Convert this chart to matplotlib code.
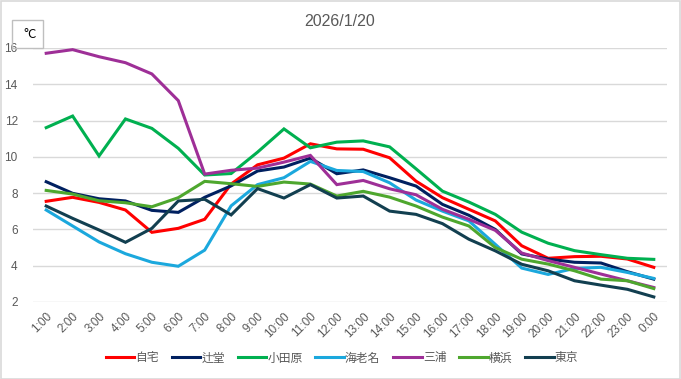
import matplotlib
matplotlib.use("Agg")
import matplotlib.pyplot as plt
from matplotlib.patches import Rectangle
import matplotlib.transforms as mtransforms

plt.rcParams['font.family'] = ['Noto Sans CJK JP', 'DejaVu Sans']

title = "2026/1/20"
hours = ["1:00", "2:00", "3:00", "4:00", "5:00", "6:00", "7:00", "8:00", "9:00", "10:00",
         "11:00", "12:00", "13:00", "14:00", "15:00", "16:00", "17:00", "18:00", "19:00",
         "20:00", "21:00", "22:00", "23:00", "0:00"]

jitaku = [7.55, 7.77, 7.49, 7.07, 5.84, 6.06, 6.56, 8.5, 9.56, 9.93, 10.72, 10.44, 10.42, 9.95,
          8.66, 7.75, 7.11, 6.47, 5.1, 4.41, 4.5, 4.52, 4.37, 3.91]
tsujido = [8.63, 7.99, 7.69, 7.57, 7.05, 6.94, 7.77, 8.4, 9.22, 9.44, 9.93, 9.07, 9.28, 8.85,
           8.39, 7.38, 6.78, 6.0, 4.65, 4.37, 4.19, 4.15, 3.67, 3.26]
odawara = [11.61, 12.25, 10.05, 12.09, 11.57, 10.47, 9.0, 9.08, 10.26, 11.54, 10.5, 10.81, 10.88,
           10.55, 9.34, 8.11, 7.51, 6.83, 5.85, 5.24, 4.83, 4.61, 4.41, 4.35]
ebina = [7.07, 6.19, 5.31, 4.66, 4.19, 3.97, 4.86, 7.3, 8.47, 8.85, 9.75, 9.25, 9.19, 8.57,
         7.62, 7.01, 6.47, 5.18, 3.87, 3.52, 3.85, 3.91, 3.63, 3.3]
miura = [15.71, 15.91, 15.52, 15.19, 14.57, 13.1, 9.05, 9.26, 9.38, 9.71, 10.08, 8.47, 8.7, 8.24,
         7.91, 7.11, 6.56, 5.95, 4.7, 4.28, 3.91, 3.54, 3.17, 2.8]
yokohama = [8.15, 7.95, 7.58, 7.47, 7.25, 7.75, 8.65, 8.52, 8.37, 8.61, 8.5, 7.84, 8.1, 7.78,
            7.29, 6.68, 6.19, 5.0, 4.36, 4.09, 3.72, 3.26, 3.17, 2.74]
tokyo = [7.29, 6.61, 5.97, 5.29, 6.06, 7.57, 7.66, 6.8, 8.25, 7.73, 8.47, 7.73, 7.84, 7.01,
         6.83, 6.32, 5.46, 4.82, 4.08, 3.72, 3.17, 2.93, 2.7, 2.28]

series_names = ["自宅", "辻堂", "小田原", "海老名", "三浦", "横浜", "東京"]
series_values = [jitaku, tsujido, odawara, ebina, miura, yokohama, tokyo]
colors = ["#FF0000", "#002060", "#00B050", "#1BA8DD", "#9E2F97", "#4EA72E", "#123F50"]
yticks = [2, 4, 6, 8, 10, 12, 14, 16]

W, H = 681, 379
fig = plt.figure(figsize=(W / 100, H / 100), dpi=100)
fig.patch.set_facecolor("white")

# outer border
fig.add_artist(Rectangle((0.5 / W, 0.5 / H), 1 - 1.5 / W, 1 - 1.5 / H, transform=fig.transFigure,
                         fill=False, edgecolor="#D9D9D9", linewidth=1.2))

ax = fig.add_axes([33 / W, 1 - 302 / H, (667 - 33) / W, (302 - 48) / H])
x = list(range(len(hours)))
for name, vals, c in zip(series_names, series_values, colors):
    ax.plot(x, vals, color=c, linewidth=2.2, label=name, solid_joinstyle="miter")

ax.set_xlim(-0.5, len(hours) - 0.5)
ax.set_ylim(2, 16)
ax.set_yticks(yticks)
ax.set_yticklabels([str(v) for v in yticks], color="#595959", fontsize=8.5, family="Liberation Sans")
ax.set_xticks(x)
ax.set_xticklabels(hours, rotation=45, ha="right", rotation_mode="anchor",
                   color="#595959", fontsize=8.5, family="Liberation Sans")
offset = mtransforms.ScaledTranslation(5 / 100, -2 / 100, fig.dpi_scale_trans)
for lab in ax.get_xticklabels():
    lab.set_transform(lab.get_transform() + offset)
ax.tick_params(axis="both", length=0)
ax.tick_params(axis="y", pad=11)
ax.tick_params(axis="x", pad=6)
ax.grid(axis="y", color="#D9D9D9", linewidth=1)
ax.set_axisbelow(True)
for s in ax.spines.values():
    s.set_visible(False)

fig.text(340 / W, 1 - 21 / H, title, ha="center", va="center", fontsize=11.5,
         color="#595959", family="Liberation Sans")

# unit box
fig.add_artist(Rectangle((12 / W, 1 - 48 / H), 31 / W, 28 / H, transform=fig.transFigure,
                         fill=False, edgecolor="#BFBFBF", linewidth=1))
fig.text(23 / W, 1 - 34 / H, "°C", ha="left", va="center", fontsize=9.5, color="black")

leg = fig.legend(loc="center", bbox_to_anchor=(342 / W, 1 - 358 / H), ncol=7, frameon=False,
                 fontsize=8.5, handlelength=2.4, columnspacing=1.1, handletextpad=0.1,
                 labelcolor="#595959")

fig.savefig("out.png", dpi=100)
